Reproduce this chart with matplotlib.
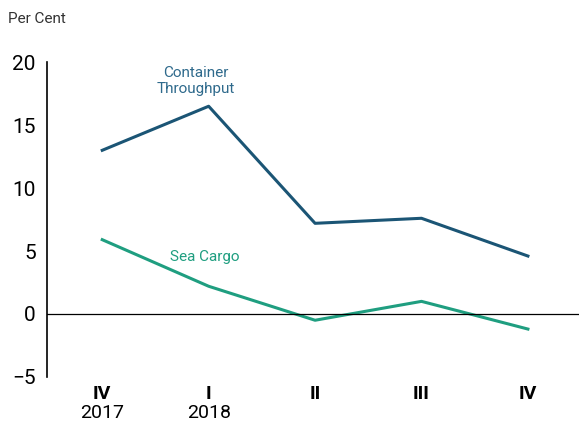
import matplotlib.pyplot as plt
from matplotlib import font_manager

# Data
quarters = ["IV", "I", "II", "III", "IV"]
years = ["2017", "2018", "", "", ""]
container = [13.0, 16.5, 7.2, 7.6, 4.6]
sea_cargo = [5.9, 2.2, -0.5, 1.0, -1.2]

names = {f.name for f in font_manager.fontManager.ttflist}
font = "Liberation Sans Narrow" if "Liberation Sans Narrow" in names else "Roboto"
plt.rcParams['font.family'] = [font, 'DejaVu Sans']

c_dark = "#1b5575"
c_green = "#1f9e80"

fig = plt.figure(figsize=(5.79, 4.23), dpi=100)
ax = fig.add_axes([0.081, 0.109, 0.919, 0.744])

x = list(range(len(quarters)))
ax.plot(x, container, color=c_dark, lw=2.2)
ax.plot(x, sea_cargo, color=c_green, lw=2.2)
ax.axhline(0, color="black", lw=0.9)

ax.set_xlim(-0.52, 4.48)
ax.set_ylim(-5, 20)
ax.set_yticks([-5, 0, 5, 10, 15, 20])
ax.tick_params(axis="y", length=0, labelsize=15, pad=8)
ax.set_xticks(x)
ax.set_xticklabels(quarters, fontweight="bold", fontsize=14)
ax.tick_params(axis="x", length=0, pad=6)

for xi, yr in zip(x, years):
    if yr:
        ax.text(xi, -0.115, yr, transform=ax.get_xaxis_transform(),
                ha="center", va="center", fontsize=14)

for s in ["top", "right", "bottom"]:
    ax.spines[s].set_visible(False)
ax.spines["left"].set_linewidth(1.2)

ax.text(0.88, 18.5, "Container\nThroughput", color="#2f6a8c", ha="center",
        va="center", fontsize=11, linespacing=1.2)
ax.text(0.96, 4.5, "Sea Cargo", color=c_green, ha="center", va="center",
        fontsize=11)

fig.text(0.014, 0.955, "Per Cent", fontsize=11, color="#333333",
         ha="left", va="center")

fig.savefig("out.png", dpi=100)
